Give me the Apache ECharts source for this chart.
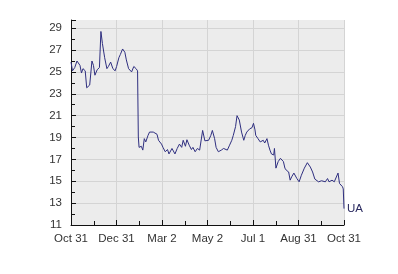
<!DOCTYPE html>
<html>
<head>
<meta charset="utf-8">
<style>html,body{margin:0;padding:0;background:#fff;}#c{width:398px;height:274px;}</style>
<script src="https://cdn.jsdelivr.net/npm/echarts@6/dist/echarts.min.js"></script>
</head>
<body>
<div id="c"></div>
<script>
// Days since Oct 31 and closing prices
var days = [0,2,5,8,12,14,16,19,21,23,25,28,30,32,35,38,40,42,45,48,50,53,56,59,61,64,66,69,72,74,77,81,84,87,89,
  90,91,94,96,98,100,103,105,107,110,112,115,117,119,121,123,126,129,131,135,137,139,142,145,148,150,153,155,158,161,163,166,169,172,
  174,176,179,181,184,187,189,192,194,197,199,201,204,206,209,212,215,217,220,222,225,228,230,231,233,235,237,239,242,244,246,247,
  250,253,255,257,259,262,264,266,268,271,272,274,277,280,284,286,288,291,293,295,298,302,305,308,312,316,320,323,326,331,335,340,
  343,345,349,352,354,357,359,361,363,364,365];
var prices = [25.9,25.1,25.4,26.0,25.6,24.9,25.3,25.1,23.55,23.7,23.8,26.0,25.6,24.7,25.2,25.4,28.7,27.6,26.3,25.3,25.5,25.9,25.3,25.1,25.5,26.3,26.6,27.1,26.8,26.1,25.3,25.0,25.5,25.3,25.1,
  19.05,18.1,18.2,17.85,18.9,18.6,19.2,19.5,19.6,19.5,19.65,19.3,18.75,18.8,18.4,18.1,17.7,17.9,17.5,18.0,17.85,17.5,18.0,18.4,18.1,18.75,18.2,18.8,18.3,17.9,18.1,17.7,18.0,17.85,
  18.0,19.65,18.7,18.6,18.75,19.2,19.65,18.9,18.1,17.7,17.8,17.85,18.0,18.0,17.85,18.3,18.75,19.2,20.0,21.0,20.6,19.5,19.0,18.75,19.2,19.5,19.6,19.8,19.9,20.3,19.7,19.2,
  18.9,18.6,18.7,18.75,18.5,18.9,18.3,17.85,17.5,17.4,18.0,16.2,16.8,17.1,16.8,16.2,16.0,15.85,15.1,15.4,15.75,15.25,14.95,15.55,16.2,16.7,16.3,15.85,15.2,14.95,15.05,14.95,
  15.25,14.95,15.1,14.95,14.95,15.75,14.8,14.65,14.5,14.3,12.5];
var xTickLabels = ['Oct 31','Dec 31','Mar 2','May 2','Jul 1','Aug 31','Oct 31'];
var seriesName = 'UA';

var data = days.map(function (d, i) { return [d * 12 / 365, prices[i]]; });
var font = 'Liberation Sans, Arial, sans-serif';
var chart = echarts.init(document.getElementById('c'), null, {renderer: 'canvas'});
chart.setOption({
  animation: false,
  grid: {left: 71, right: 54, top: 20, bottom: 49, show: true, backgroundColor: '#ececec', borderWidth: 0},
  xAxis: {
    type: 'value', min: 0, max: 12, interval: 2,
    axisLine: {show: true, onZero: false, lineStyle: {color: '#111', width: 1}},
    axisTick: {show: true, inside: true, length: 5, lineStyle: {color: '#111'}},
    minorTick: {show: true, splitNumber: 2, length: 4, lineStyle: {color: '#111'}},
    splitLine: {show: true, lineStyle: {color: '#d4d4d4', width: 1}},
    axisLabel: {color: '#333', fontFamily: font, fontSize: 11.5, margin: 8,
      formatter: function (v) { return xTickLabels[Math.round(v / 2)]; }}
  },
  yAxis: {
    type: 'value', min: 11, max: 29.75, interval: 2,
    axisLine: {show: true, lineStyle: {color: '#111', width: 1}},
    axisTick: {show: true, inside: true, length: 5, lineStyle: {color: '#111'}},
    minorTick: {show: true, splitNumber: 2, length: 4, lineStyle: {color: '#111'}},
    splitLine: {show: true, showMaxLine: false, lineStyle: {color: '#d4d4d4', width: 1}},
    axisLabel: {color: '#333', fontFamily: font, fontSize: 11.5, margin: 9, showMaxLabel: false}
  },
  series: [{
    name: seriesName, type: 'line', data: data, symbol: 'none',
    lineStyle: {color: '#2f2f80', width: 1},
    endLabel: {show: true, formatter: seriesName, distance: 3, color: '#2a2a60', fontFamily: font, fontSize: 11.5}
  }]
});
</script>
</body>
</html>
